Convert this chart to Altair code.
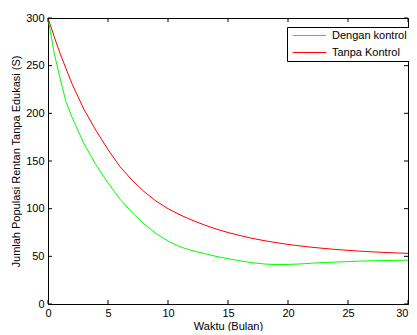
import altair as alt
import pandas as pd

t_vals = [0, 0.5, 1, 1.5, 2, 3, 4, 5, 6, 7, 8, 9, 10, 11, 12, 13, 14, 15, 16, 17, 18, 19, 20,
          21, 22, 23, 24, 25, 26, 27, 28, 29, 30]
dengan_kontrol = [300, 264, 237, 212, 196, 168, 146, 127, 110, 96, 84, 74, 66, 60, 56, 53, 50, 47.5,
                  45.3, 43.3, 42, 41.3, 41.5, 42, 42.8, 43.5, 44, 44.5, 45, 45.3, 45.6, 45.8, 46]
tanpa_kontrol = [300, 281, 263, 247, 231, 204, 182, 162, 144, 130, 118, 108, 100, 93.5, 88, 83, 78.7, 75,
                 71.8, 68.9, 66.5, 64.4, 62.5, 60.9, 59.5, 58.3, 57.2, 56.3, 55.4, 54.7, 54.1, 53.6, 53.1]
series_names = ["Dengan kontrol", "Tanpa Kontrol"]
series_colors = ["#00ff00", "#ff0000"]
x_ticks = [0, 5, 10, 15, 20, 25, 30]
y_ticks = [0, 50, 100, 150, 200, 250, 300]

rows = []
for t, g, r in zip(t_vals, dengan_kontrol, tanpa_kontrol):
    rows.append({"t": t, "S": g, "seri": series_names[0]})
    rows.append({"t": t, "S": r, "seri": series_names[1]})
df = pd.DataFrame(rows)
xt = pd.DataFrame({"t": x_ticks})
yt = pd.DataFrame({"S": y_ticks})

W, H = 360, 286
FONT = "Liberation Sans"
xscale = alt.Scale(domain=[0, 30], nice=False)
yscale = alt.Scale(domain=[0, 300], nice=False)
xaxis = alt.Axis(values=x_ticks, tickSize=0, labelPadding=3, titlePadding=2,
                 labelAlign=alt.condition("datum.value == 30", alt.value("right"), alt.value("center")))
yaxis = alt.Axis(values=y_ticks, tickSize=0, labelPadding=4, titlePadding=4)
XT = "Waktu (Bulan)"
YT = "Jumlah Populasi Rentan Tanpa Edukasi (S)"

lines = alt.Chart(df).mark_line(strokeWidth=1).encode(
    x=alt.X("t:Q", scale=xscale, title=XT, axis=xaxis),
    y=alt.Y("S:Q", scale=yscale, title=YT, axis=yaxis),
    color=alt.Color("seri:N", scale=alt.Scale(domain=series_names, range=series_colors),
                    title=None,
                    legend=alt.Legend(orient="none", legendX=239, legendY=9,
                                      fillColor="white", strokeColor="black", padding=3,
                                      symbolType="M-4.8,0H4.8", symbolSize=49, symbolOffset=14,
                                      symbolStrokeWidth=1, labelOffset=17, rowPadding=5,
                                      labelFont=FONT, labelFontSize=11, labelColor="black",
                                      labelLimit=200)),
    order=alt.Order("t:Q"),
)

tick_len = 4
xb = alt.Chart(xt).mark_rule(color="black", strokeWidth=1).encode(
    x=alt.X("t:Q", scale=xscale, title=XT, axis=xaxis), y=alt.value(H), y2=alt.value(H - tick_len))
xtp = alt.Chart(xt).mark_rule(color="black", strokeWidth=1).encode(
    x=alt.X("t:Q", scale=xscale, title=XT, axis=xaxis), y=alt.value(0), y2=alt.value(tick_len))
yl = alt.Chart(yt).mark_rule(color="black", strokeWidth=1).encode(
    y=alt.Y("S:Q", scale=yscale, title=YT, axis=yaxis), x=alt.value(0), x2=alt.value(tick_len))
yr = alt.Chart(yt).mark_rule(color="black", strokeWidth=1).encode(
    y=alt.Y("S:Q", scale=yscale, title=YT, axis=yaxis), x=alt.value(W), x2=alt.value(W - tick_len))

chart = alt.layer(lines, xb, xtp, yl, yr).properties(
    width=W, height=H,
    autosize=alt.AutoSizeParams(type="none"),
    padding={"left": 40, "top": 10, "right": 1, "bottom": 27},
).configure_view(stroke="black", strokeWidth=1).configure_axis(
    grid=False, domainColor="black", domainWidth=1,
    labelFont=FONT, labelFontSize=11, labelColor="black",
    titleFont=FONT, titleFontSize=11, titleFontWeight="normal", titleColor="black",
)

chart.save("out.html", embed_options={"renderer": "svg", "actions": False})
